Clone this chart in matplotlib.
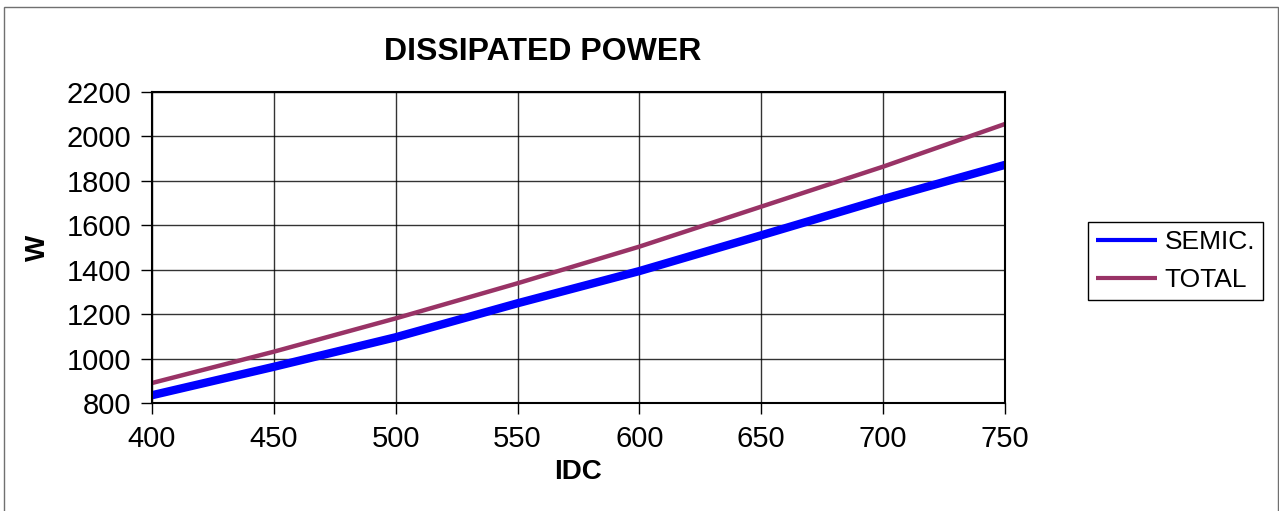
import matplotlib.pyplot as plt
from matplotlib.patches import Rectangle

plt.rcParams['font.family'] = ['Liberation Sans', 'DejaVu Sans']

# data
idc = [400, 450, 500, 550, 600, 650, 700, 750]
semic = [835, 963, 1096, 1249, 1394, 1555, 1718, 1872]
total = [890, 1031, 1181, 1339, 1504, 1684, 1864, 2056]
x_ticks = [400, 450, 500, 550, 600, 650, 700, 750]
y_ticks = [800, 1000, 1200, 1400, 1600, 1800, 2000, 2200]

fig = plt.figure(figsize=(12.79, 5.11), dpi=100)
ax = fig.add_axes([152 / 1279, 1 - 403 / 511, (1005 - 152) / 1279, (403 - 92) / 511])

# outer chart frame
fig.patches.append(Rectangle((4 / 1279, -0.05), 1274 / 1279, 1.05 - 7 / 511,
                             transform=fig.transFigure, fill=False,
                             edgecolor='#707070', linewidth=1))

ax.plot(idc, semic, color='#0000FF', linewidth=6, label='SEMIC.', solid_capstyle='butt')
ax.plot(idc, total, color='#993366', linewidth=3.2, label='TOTAL', solid_capstyle='butt')

ax.set_xlim(400, 750)
ax.set_ylim(800, 2200)
ax.set_xticks(x_ticks)
ax.set_yticks(y_ticks)
ax.grid(True, color='black', linewidth=1, alpha=0.8)
ax.set_axisbelow(True)
ax.tick_params(labelsize=21, length=8, width=1, direction='out')
ax.tick_params(axis='y', pad=7)
ax.tick_params(axis='x', pad=8)
for s in ax.spines.values():
    s.set_linewidth(1.5)

fig.text(543 / 1279, 1 - 52 / 511, 'DISSIPATED POWER', ha='center', va='center',
         fontsize=23, fontweight='bold')
fig.text(38 / 1279, 1 - 248 / 511, 'W', ha='center', va='center', rotation=90,
         fontsize=20, fontweight='bold')
fig.text(578 / 1279, 1 - 472 / 511, 'IDC', ha='center', va='center',
         fontsize=20, fontweight='bold')

leg = ax.legend(loc='center left', bbox_to_anchor=(1088 / 1279, 1 - 261 / 511),
                bbox_transform=fig.transFigure, fontsize=19, fancybox=False,
                edgecolor='black', framealpha=1, borderpad=0.3, handlelength=2.3,
                handletextpad=0.3, labelspacing=0.55, borderaxespad=0)
leg.get_frame().set_linewidth(1)
for ln in leg.get_lines():
    ln.set_linewidth(3)

fig.savefig('out.png', dpi=100)
